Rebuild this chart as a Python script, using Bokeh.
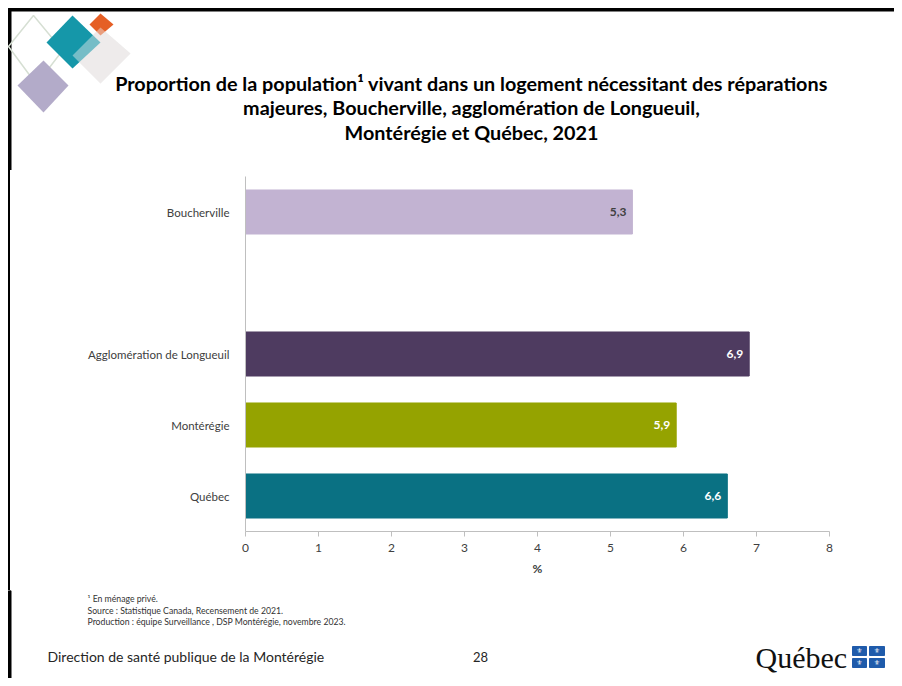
from bokeh.plotting import figure
from bokeh.layouts import column, row
from bokeh.models import ColumnDataSource, Range1d, LabelSet, FixedTicker, Div
from bokeh.core.properties import value
from bokeh.embed import file_html
from bokeh.resources import INLINE

# ---------------- data ----------------
categories = ["Québec", "Montérégie", "Agglomération de Longueuil", "", "Boucherville"]
regions = ["Boucherville", "Agglomération de Longueuil", "Montérégie", "Québec"]
values = [5.3, 6.9, 5.9, 6.6]
value_labels = ["5,3", "6,9", "5,9", "6,6"]
bar_colors = ["#c2b3d2", "#4e3b60", "#95a300", "#0a7183"]
label_colors = ["#404040", "#ffffff", "#ffffff", "#ffffff"]
x_ticks = [0, 1, 2, 3, 4, 5, 6, 7, 8]
x_label = "%"
title_lines = [
    "Proportion de la population¹ vivant dans un logement nécessitant des réparations",
    "majeures, Boucherville, agglomération de Longueuil,",
    "Montérégie et Québec, 2021",
]
notes = [
    "¹ En ménage privé.",
    "Source : Statistique Canada, Recensement de 2021.",
    "Production : équipe Surveillance , DSP Montérégie, novembre 2023.",
]
footer_left = "Direction de santé publique de la Montérégie"
page_number = "28"
logo_text = "Québec"

FONT = "Lato"
W, H = 894, 678          # whole page
HEAD_H = 170             # header band
CHART_H = 420            # chart band
FOOT_H = H - HEAD_H - CHART_H
STRIP_W = 12
BORDER = "#000000"


def deco_fig(width, height, y0):
    f = figure(width=width, height=height, x_range=Range1d(0, width),
               y_range=Range1d(y0 + height, y0), output_backend="svg",
               toolbar_location=None, x_axis_type=None, y_axis_type=None,
               min_border=0)
    f.outline_line_color = None
    f.xgrid.visible = False
    f.ygrid.visible = False
    f.background_fill_color = "white"
    f.border_fill_color = "white"
    return f


def txt(f, x, y, t, size, align="left", style="normal", color="#262626", font=FONT):
    f.text(x=[x], y=[y], text=[t], text_align=align, text_baseline="middle",
           text_font=value(font), text_font_size=size, text_font_style=style,
           text_color=color)


# ---------------- header ----------------
head = deco_fig(W, HEAD_H, 0)
head.quad(left=[8], right=[W], top=[8], bottom=[10.5], color=BORDER)
head.quad(left=[8], right=[10.5], top=[8], bottom=[HEAD_H], color=BORDER)

# logo (rotated squares)
head.patch([33, 62, 36, 8], [15, 50, 84, 46], fill_color=None, line_color="#d6dfd3", line_width=1.5)
head.patch([100, 130, 100, 72], [27, 53, 83, 55], fill_color="#eeeceb", line_color=None)
head.patch([72, 100, 72, 46], [15, 42, 68, 42], fill_color="#1597a9", line_color=None)
head.patch([100, 113, 100, 89], [13, 24, 35, 24], fill_color="#e55f25", line_color=None)
head.patch([100, 130, 100, 72], [27, 53, 83, 55], fill_color="#eeeceb", fill_alpha=0.45, line_color=None)
head.patch([43, 68, 43, 17], [60, 85, 112, 85], fill_color="#b3abc9", line_color=None)

for i, t in enumerate(title_lines):
    txt(head, 471, 82 + i * 24.5, t, "19.8px", "center", "bold", "#000000")

# ---------------- chart ----------------
strip = Div(text="", width=STRIP_W, height=CHART_H, margin=(0, 0, 0, 0),
            styles={"background": "linear-gradient(to right, #ffffff 8px, #000000 8px, "
                                  "#000000 10.5px, #ffffff 10.5px)"})

ypos = [categories.index(r) for r in regions]
src = ColumnDataSource(dict(y=ypos, value=values, label=value_labels,
                            color=bar_colors, lcolor=label_colors))

CW = W - STRIP_W
FL, FR, FT, FB = 245, 829, 176, 531    # frame edges in page pixels
p = figure(width=CW, height=CHART_H, y_range=Range1d(-0.5, len(categories) - 0.5),
           x_range=Range1d(0, 8), output_backend="svg", toolbar_location=None,
           min_border_left=FL - STRIP_W, min_border_right=W - FR,
           min_border_top=FT - HEAD_H, min_border_bottom=HEAD_H + CHART_H - FB)
p.outline_line_color = None
p.xgrid.visible = False
p.ygrid.visible = False
p.background_fill_color = "white"
p.border_fill_color = "white"

p.hbar(y="y", right="value", left=0, height=0.62, source=src,
       fill_color="color", line_color="color")

p.add_layout(LabelSet(x="value", y="y", text="label", source=src, x_offset=-6,
                      text_align="right", text_baseline="middle", text_color="lcolor",
                      text_font=value(FONT), text_font_size="12px", text_font_style="bold"))

xa = p.xaxis[0]
xa.ticker = FixedTicker(ticks=x_ticks)
xa.axis_line_color = "#bfbfbf"
xa.major_tick_line_color = "#bfbfbf"
xa.major_tick_out = 5
xa.major_tick_in = 0
xa.minor_tick_line_color = None
xa.major_label_text_font = FONT
xa.major_label_text_font_size = "12px"
xa.major_label_text_color = "#404040"
xa.major_label_standoff = 7
xa.axis_label = x_label
xa.axis_label_text_font = FONT
xa.axis_label_text_font_size = "12px"
xa.axis_label_text_font_style = "bold"
xa.axis_label_text_color = "#404040"
xa.axis_label_standoff = 6

ya = p.yaxis[0]
ya.ticker = FixedTicker(ticks=list(range(len(categories))))
ya.major_label_overrides = {i: c for i, c in enumerate(categories)}
ya.axis_line_color = "#bfbfbf"
ya.major_tick_line_color = None
ya.minor_tick_line_color = None
ya.major_label_text_font = FONT
ya.major_label_text_font_size = "11.5px"
ya.major_label_text_color = "#404040"
ya.major_label_standoff = 10

# ---------------- footer ----------------
foot = deco_fig(W, FOOT_H, HEAD_H + CHART_H)
foot.quad(left=[8], right=[10.5], top=[HEAD_H + CHART_H], bottom=[H], color=BORDER)
for i, t in enumerate(notes):
    txt(foot, 87, 598 + i * 11.5, t, "8.7px", "left", "normal", "#333333")
txt(foot, 47, 656, footer_left, "14px", "left", "normal", "#262626")
txt(foot, 480, 656, page_number, "13px", "center", "normal", "#262626")
txt(foot, 755, 657, logo_text, "30px", "left", "normal", "#111111", "Liberation Serif")
foot.quad(left=[852, 869, 852, 869], right=[866, 884, 866, 884],
          top=[646, 646, 658, 658], bottom=[655, 655, 667, 667], color="#1f5bab")
foot.text(x=[859, 876.5, 859, 876.5], y=[650.5, 650.5, 662.5, 662.5], text=["⚜"] * 4,
          text_align="center", text_baseline="middle", text_font=value("DejaVu Sans"),
          text_font_size="7px", text_color="white")

layout = column(head, row(strip, p), foot)
open("out.html", "w").write(file_html(layout, INLINE))
